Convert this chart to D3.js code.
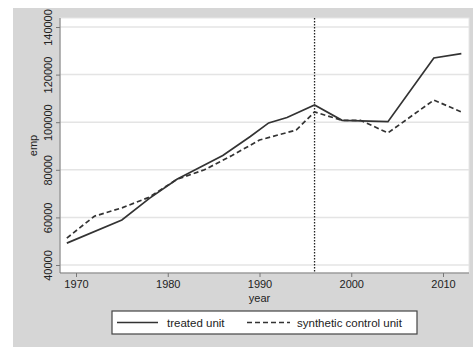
<!DOCTYPE html>
<html>
<head>
<meta charset="utf-8">
<script src="https://cdn.jsdelivr.net/npm/d3@7.9.0/dist/d3.min.js"></script>
<style>
  body { margin: 0; background: #fff; }
  svg { display: block; font-family: "Liberation Sans", Arial, sans-serif; }
</style>
</head>
<body>
<div id="chart"></div>
<script>
// values
const treatedYears = [1969, 1975, 1978, 1981, 1983, 1986, 1989, 1991, 1993, 1996, 1999, 2004, 2009, 2012];
const treatedEmp   = [49200, 58900, 68000, 76000, 80000, 86000, 94000, 99700, 102000, 107200, 100800, 100200, 127000, 128800];

const synthYears = [1969, 1972, 1975, 1978, 1981, 1984, 1987, 1990, 1994, 1996, 1999, 2001, 2004, 2009, 2012];
const synthEmp   = [51300, 60500, 64000, 68500, 76000, 80000, 86000, 92500, 96700, 104300, 100800, 100800, 95500, 109300, 104300];

const xTicks = [1970, 1980, 1990, 2000, 2010];
const yTicks = [40000, 60000, 80000, 100000, 120000, 140000];
const treatmentYear = 1996;
const legendLabels = ['treated unit', 'synthetic control unit'];

const width = 473;
const height = 349;

const svg = d3.select('#chart')
    .append('svg')
    .attr('width', width)
    .attr('height', height);

// outer graph region
svg.append('rect')
    .attr('x', 13).attr('y', 8)
    .attr('width', width - 13).attr('height', height - 10)
    .attr('fill', '#d6d6d6');

const plot = { left: 60, right: 469, top: 18, bottom: 273 };

// 140000 sits at y=27 and 40000 at y=265
const xScale = d3.scaleLinear().domain([1970, 2010]).range([76, 443]);
const yScale = d3.scaleLinear().domain([40000, 140000]).range([265, 27]);

svg.append('rect')
    .attr('x', plot.left).attr('y', plot.top)
    .attr('width', plot.right - plot.left).attr('height', plot.bottom - plot.top)
    .attr('fill', '#fff')
    .attr('stroke', '#e6e6e6');

// gridlines
svg.append('g')
    .selectAll('line')
    .data(yTicks)
    .join('line')
    .attr('x1', plot.left).attr('x2', plot.right)
    .attr('y1', (d) => yScale(d)).attr('y2', (d) => yScale(d))
    .attr('stroke', '#e4e4e4')
    .attr('stroke-width', 1.5);

// axes
const xAxis = d3.axisBottom(xScale).tickValues(xTicks).tickFormat(d3.format('d')).tickSize(4).tickPadding(3);
const yAxis = d3.axisLeft(yScale).tickValues(yTicks).tickFormat(d3.format('d')).tickSize(4).tickPadding(3);

const gx = svg.append('g')
    .attr('transform', `translate(0, ${plot.bottom})`)
    .call(xAxis);
gx.select('.domain').attr('d', `M${plot.left},0H${plot.right}`).attr('stroke', '#777');
gx.selectAll('.tick line').attr('stroke', '#777');
gx.selectAll('.tick text').attr('font-size', 11).attr('fill', '#222').attr('font-family', null);

const gy = svg.append('g')
    .attr('transform', `translate(${plot.left}, 0)`)
    .call(yAxis);
gy.select('.domain').attr('d', `M0,${plot.top}V${plot.bottom}`).attr('stroke', '#777');
gy.selectAll('.tick line').attr('stroke', '#777');
gy.selectAll('.tick text')
    .attr('font-size', 11)
    .attr('fill', '#222')
    .attr('font-family', null)
    .attr('transform', 'rotate(-90)')
    .attr('x', 0)
    .attr('y', -8)
    .attr('dy', '0')
    .attr('text-anchor', 'middle');

// axis titles
svg.append('text')
    .attr('x', xScale(1990)).attr('y', 302)
    .attr('text-anchor', 'middle')
    .attr('font-size', 11)
    .attr('fill', '#222')
    .text('year');

svg.append('text')
    .attr('transform', `translate(37, ${(plot.top + plot.bottom) / 2}) rotate(-90)`)
    .attr('text-anchor', 'middle')
    .attr('font-size', 11)
    .attr('fill', '#222')
    .text('emp');

// treatment line
svg.append('line')
    .attr('x1', xScale(treatmentYear)).attr('x2', xScale(treatmentYear))
    .attr('y1', plot.top).attr('y2', plot.bottom)
    .attr('stroke', '#222')
    .attr('stroke-width', 1.3)
    .attr('stroke-dasharray', '1.5,1.5');

// series
const line = d3.line()
    .x((d) => xScale(d[0]))
    .y((d) => yScale(d[1]));

const treated = treatedYears.map((y, i) => [y, treatedEmp[i]]);
const synth = synthYears.map((y, i) => [y, synthEmp[i]]);

svg.append('path')
    .datum(synth)
    .attr('d', line)
    .attr('fill', 'none')
    .attr('stroke', '#333')
    .attr('stroke-width', 1.7)
    .attr('stroke-dasharray', '5,3');

svg.append('path')
    .datum(treated)
    .attr('d', line)
    .attr('fill', 'none')
    .attr('stroke', '#333')
    .attr('stroke-width', 1.7);

// legend
const legend = svg.append('g');
legend.append('rect')
    .attr('x', 112).attr('y', 311)
    .attr('width', 305).attr('height', 23)
    .attr('fill', '#fff')
    .attr('stroke', '#444')
    .attr('stroke-width', 1.2);

legend.append('line')
    .attr('x1', 117).attr('x2', 158).attr('y1', 322.5).attr('y2', 322.5)
    .attr('stroke', '#333').attr('stroke-width', 1.6);
legend.append('text')
    .attr('x', 167).attr('y', 326.5)
    .attr('font-size', 11.5).attr('fill', '#222')
    .text(legendLabels[0]);

legend.append('line')
    .attr('x1', 247).attr('x2', 290).attr('y1', 322.5).attr('y2', 322.5)
    .attr('stroke', '#333').attr('stroke-width', 1.6)
    .attr('stroke-dasharray', '5,3');
legend.append('text')
    .attr('x', 297).attr('y', 326.5)
    .attr('font-size', 11.5).attr('fill', '#222')
    .text(legendLabels[1]);
</script>
</body>
</html>
